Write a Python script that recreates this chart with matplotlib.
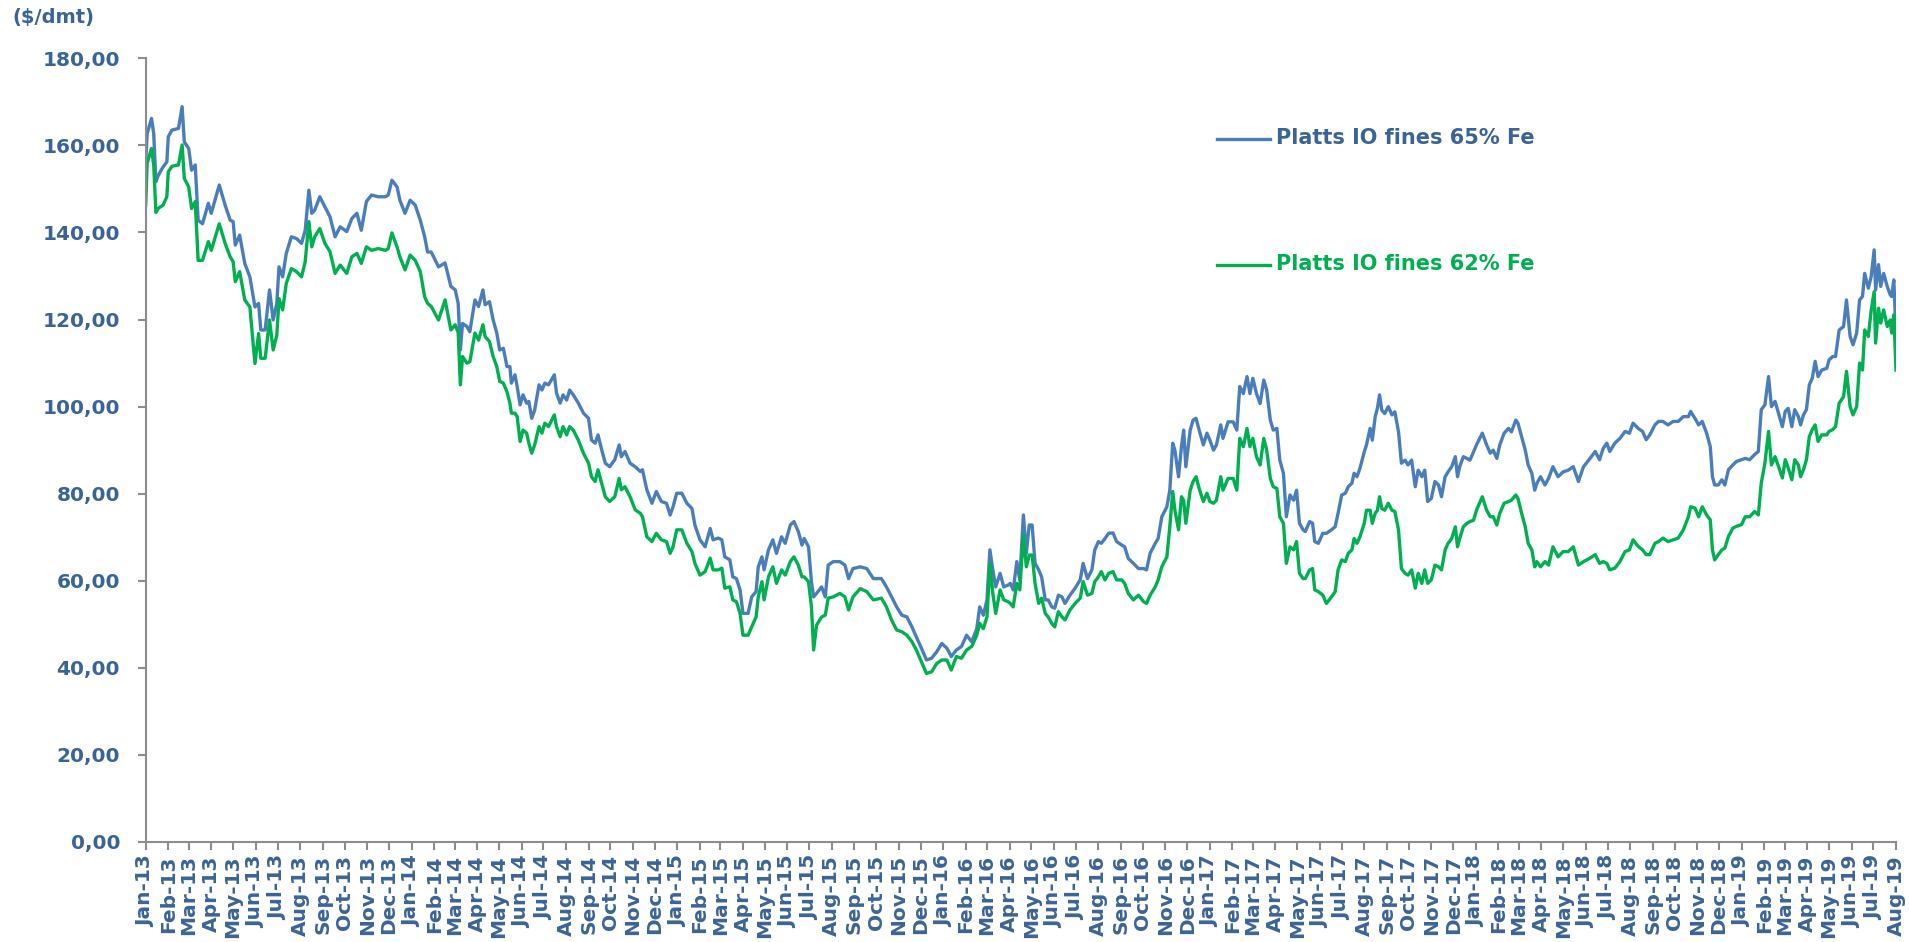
import matplotlib
matplotlib.use("Agg")
import matplotlib.pyplot as plt
import matplotlib.dates as mdates
from matplotlib.lines import Line2D
from matplotlib.ticker import FuncFormatter, MultipleLocator
import pandas as pd

# ---------------- data ----------------
# day offsets from 2013-01-01
day_offsets = [
    # 2013
    0, 2, 8, 11, 14, 17, 24, 29, 31, 36,
    45, 50, 53, 59, 63, 68, 72, 78, 86, 90,
    101, 109, 116, 120, 123, 129, 136, 143, 150, 155,
    158, 164, 170, 175, 180, 183, 188, 193, 200, 207,
    214, 219, 224, 228, 232, 239, 246, 253, 260, 267,
    276, 283, 290, 296, 303, 310, 319, 329, 333, 338,
    345, 349, 356, 363, 370, 377, 383, 387, 392, 402,
    # 2014 - early 2015
    411, 419, 425, 429, 432, 435, 441, 445, 452, 457,
    463, 466, 472, 477, 482, 486, 491, 496, 500, 502,
    507, 510, 514, 518, 523, 526, 530, 534, 540, 544,
    548, 553, 561, 564, 569, 573, 578, 582, 587, 594,
    601, 608, 612, 617, 621, 626, 631, 637, 644, 650,
    653, 658, 665, 672, 679, 682, 688, 695, 701, 708,
    715, 720, 724, 729, 736, 743, 750, 754, 761, 768,
    775, 779, 786, 791, 795,
    # 2015 - early 2016
    802, 806, 811, 816, 820, 827, 832, 838, 841, 846,
    849, 855, 861, 866, 873, 878, 885, 890, 896, 901,
    904, 910, 914, 917, 921, 928, 933, 937, 944, 953,
    960, 965, 971, 981, 990, 999, 1010, 1017, 1024, 1031,
    1038, 1045, 1052, 1058, 1065, 1072, 1079, 1086, 1093, 1100,
    1106, 1113, 1120, 1127, 1134, 1141, 1145, 1150, 1155, 1159,
    1163, 1167, 1173, 1178, 1184,
    # 2016 - early 2017
    1187, 1191, 1196, 1200, 1205, 1209, 1213, 1217, 1221, 1226,
    1230, 1235, 1239, 1244, 1248, 1253, 1258, 1262, 1269, 1276,
    1283, 1287, 1293, 1299, 1303, 1308, 1312, 1317, 1322, 1328,
    1333, 1340, 1344, 1349, 1356, 1363, 1370, 1374, 1379, 1386,
    1390, 1395, 1402, 1406, 1410, 1413, 1418, 1422, 1425, 1428,
    1434, 1438, 1442, 1447, 1452, 1457, 1461, 1466, 1470, 1476,
    1479, 1486, 1493, 1498, 1502, 1507, 1512, 1516, 1520, 1525,
    1530, 1535, 1539, 1544, 1548, 1553, 1557, 1562, 1566, 1571,
    1576, 1580, 1584, 1589,
    # 2017 - 2018
    1592, 1598, 1602, 1605, 1610, 1616, 1621, 1628, 1633, 1637,
    1642, 1647, 1651, 1656, 1659, 1663, 1667, 1673, 1676, 1681,
    1684, 1688, 1691, 1694, 1697, 1701, 1706, 1711, 1715, 1720,
    1724, 1729, 1733, 1738, 1743, 1747, 1752, 1756, 1760, 1765,
    1770, 1775, 1779, 1784, 1788, 1793, 1798, 1801, 1804, 1809,
    1814, 1818, 1823, 1827, 1835, 1841, 1846, 1850, 1855, 1859,
    1865, 1871, 1875, 1881, 1884, 1889, 1894, 1898, 1903, 1907,
    1910, 1915, 1921, 1926, 1932, 1939, 1946, 1953, 1960, 1967,
    1974,
    # 2018 - 2019
    1983, 1990, 1996, 2001, 2006, 2010, 2017, 2024, 2031, 2037,
    2042, 2049, 2055, 2060, 2065, 2072, 2077, 2083, 2090, 2097,
    2104, 2111, 2118, 2121, 2127, 2132, 2137, 2143, 2148, 2151,
    2154, 2159, 2164, 2168, 2173, 2179, 2184, 2191, 2196, 2202,
    2209, 2214, 2218, 2223, 2228, 2232, 2237, 2241, 2247, 2251,
    2255, 2260, 2264, 2269, 2272, 2276, 2280, 2284, 2288, 2292,
    2296, 2301, 2308, 2311, 2316, 2320, 2325, 2331, 2335, 2340,
    2344, 2349, 2353, 2357, 2360, 2365, 2369, 2373, 2375, 2379,
    2382, 2386, 2391, 2395, 2397, 2400, 2403,
]

fines_65 = [
    156.0, 162.7, 166.2, 162.7, 151.7, 153.0, 155.1, 156.2, 162.0, 163.5,
    163.9, 168.9, 160.8, 159.3, 154.3, 155.5, 142.8, 142.0, 146.7, 144.4,
    150.9, 146.3, 142.8, 142.5, 137.1, 139.4, 132.9, 129.8, 122.9, 123.7,
    117.6, 117.6, 126.8, 119.9, 123.7, 132.1, 129.8, 135.2, 139.0, 138.6,
    137.5, 140.5, 149.7, 144.4, 145.1, 148.2, 145.9, 143.6, 139.0, 141.3,
    140.2, 143.2, 144.4, 140.5, 147.1, 148.6, 148.2, 148.2, 148.6, 152.0,
    150.5, 147.4, 144.4, 147.4, 146.3, 142.8, 139.0, 135.5, 135.5, 132.1,
    133.0, 127.6, 126.8, 123.7, 113.0, 119.1, 118.4, 117.2, 124.5, 123.0,
    126.8, 123.4, 124.1, 119.9, 116.9, 113.0, 113.4, 109.2, 109.2, 105.4,
    107.3, 104.6, 100.4, 102.7, 100.8, 101.2, 97.3, 99.2, 105.0, 103.8,
    105.4, 105.0, 107.3, 103.1, 100.8, 102.7, 101.5, 103.8, 102.7, 100.8,
    98.5, 97.3, 92.3, 91.6, 93.5, 90.1, 87.0, 86.2, 87.8, 91.2,
    88.5, 89.7, 87.0, 86.2, 85.1, 85.5, 80.9, 77.8, 80.5, 78.2,
    77.8, 75.1, 77.0, 80.1, 80.1, 77.8, 76.6, 72.8, 69.4, 67.8,
    72.0, 69.4, 69.8, 69.4, 65.5,
    64.8, 60.9, 60.5, 57.9, 52.5, 52.5, 56.3, 57.5, 63.2, 65.5,
    62.5, 67.1, 69.4, 66.3, 70.1, 68.6, 72.8, 73.6, 71.3, 68.2,
    69.7, 67.8, 59.8, 56.3, 57.1, 58.6, 56.3, 63.6, 64.4, 64.4,
    63.6, 60.5, 62.8, 63.2, 62.8, 60.5, 60.5, 58.6, 56.3, 54.0,
    52.1, 51.7, 49.4, 47.1, 44.5, 41.8, 42.2, 43.7, 45.6, 44.5,
    42.6, 44.1, 44.9, 47.5, 46.0, 49.0, 54.0, 52.1, 55.6, 67.1,
    62.5, 58.6, 61.7, 58.6, 59.0,
    59.4, 57.9, 64.4, 60.2, 75.1, 66.3, 72.8, 72.8, 64.0, 62.5,
    60.9, 55.6, 55.6, 54.0, 53.7, 56.7, 56.3, 54.8, 56.7, 58.3,
    60.2, 64.0, 60.5, 62.5, 67.1, 69.0, 68.6, 69.7, 70.9, 71.0,
    69.0, 68.2, 67.8, 65.1, 64.0, 62.8, 62.8, 62.5, 66.3, 68.6,
    69.7, 74.7, 77.0, 80.8, 91.6, 90.0, 83.9, 90.8, 94.6, 86.2,
    94.6, 96.9, 97.3, 94.2, 91.2, 93.9, 92.3, 90.0, 91.2, 95.8,
    92.7, 96.5, 96.5, 94.6, 104.6, 103.0, 106.9, 103.0, 106.5, 103.0,
    100.7, 106.1, 103.8, 96.9, 94.6, 95.0, 87.7, 84.7, 74.7, 79.7,
    78.5, 80.8, 73.2, 71.7,
    71.3, 73.6, 73.2, 69.0, 68.6, 70.9, 70.9, 71.7, 72.4, 75.5,
    79.7, 80.1, 81.6, 82.4, 84.7, 83.9, 85.8, 89.6, 91.2, 95.0,
    92.3, 97.7, 99.6, 102.7, 99.2, 98.4, 100.0, 98.1, 98.8, 94.2,
    87.0, 87.7, 86.6, 87.7, 81.6, 85.4, 83.9, 85.4, 78.2, 78.9,
    82.8, 82.0, 79.3, 83.9, 85.0, 86.2, 88.5, 83.9, 86.2, 88.5,
    88.1, 87.7, 89.6, 91.2, 93.9, 91.2, 89.3, 90.0, 88.1, 91.2,
    93.9, 95.0, 94.2, 96.9, 96.2, 93.1, 90.0, 86.6, 84.7, 80.8,
    82.4, 83.9, 82.0, 83.5, 86.2, 83.9, 85.0, 85.4, 86.2, 82.8,
    86.2,
    88.1, 89.7, 87.8, 90.4, 91.6, 89.7, 91.6, 92.7, 94.3, 93.9,
    96.2, 95.0, 94.3, 92.4, 93.5, 95.8, 96.6, 96.6, 95.8, 96.6,
    96.6, 97.7, 97.7, 98.9, 97.3, 95.8, 96.6, 93.9, 90.8, 83.9,
    82.0, 82.0, 83.2, 82.0, 85.5, 86.6, 87.4, 87.8, 88.1, 87.8,
    89.0, 89.7, 99.3, 100.4, 106.9, 100.0, 101.2, 98.9, 95.4, 98.9,
    99.6, 95.4, 99.3, 97.7, 95.8, 98.1, 99.3, 105.0, 106.5, 110.4,
    106.9, 108.4, 108.8, 110.7, 111.5, 111.5, 117.6, 118.4, 124.5, 116.1,
    114.2, 116.9, 124.5, 125.3, 130.6, 127.2, 129.9, 136.0, 126.8, 132.6,
    127.6, 130.6, 127.6, 125.7, 125.3, 129.1, 116.9,
]

fines_62 = [
    146.3, 155.9, 159.3, 155.5, 144.6, 145.5, 146.3, 148.2, 153.9, 155.2,
    155.5, 160.1, 152.4, 150.5, 145.5, 147.1, 133.6, 133.6, 137.9, 135.9,
    142.0, 137.5, 134.4, 133.3, 128.7, 131.0, 124.5, 122.9, 109.9, 116.8,
    111.1, 111.1, 119.9, 113.0, 116.4, 124.8, 122.2, 128.3, 131.7, 131.0,
    129.8, 133.3, 142.5, 136.7, 139.0, 140.9, 137.5, 135.6, 130.6, 132.5,
    130.6, 134.4, 135.2, 132.9, 136.7, 135.9, 136.3, 135.9, 136.3, 139.9,
    136.7, 134.4, 131.4, 134.8, 133.6, 131.0, 125.2, 123.7, 123.0, 119.9,
    124.5, 117.6, 118.8, 117.0, 105.0, 111.5, 110.0, 110.3, 116.9, 115.3,
    118.8, 116.1, 114.9, 111.5, 109.2, 105.8, 105.4, 103.4, 100.8, 98.5,
    98.5, 97.7, 92.0, 94.6, 93.9, 91.6, 89.3, 91.2, 95.4, 93.9,
    96.2, 95.4, 98.1, 95.4, 93.1, 95.4, 93.5, 95.4, 94.6, 92.3,
    89.3, 87.0, 83.9, 82.8, 85.5, 82.4, 79.3, 78.2, 79.3, 83.5,
    80.9, 81.6, 79.3, 76.3, 75.5, 74.7, 70.1, 69.0, 70.9, 69.4,
    69.0, 66.3, 67.8, 71.7, 71.7, 68.6, 66.7, 64.0, 61.3, 62.1,
    65.2, 62.5, 62.5, 62.9, 58.3,
    58.6, 55.6, 55.2, 52.5, 47.5, 47.5, 49.4, 51.7, 56.3, 59.8,
    55.6, 60.9, 63.2, 59.4, 62.5, 61.3, 64.4, 65.5, 63.6, 60.9,
    60.9, 59.8, 54.0, 44.1, 49.8, 51.7, 52.1, 56.0, 56.3, 57.1,
    56.3, 53.3, 56.3, 58.2, 57.5, 55.6, 56.0, 54.0, 51.0, 48.7,
    48.3, 47.5, 46.0, 44.1, 41.4, 38.7, 39.1, 41.0, 41.8, 41.8,
    39.5, 42.6, 42.2, 44.1, 44.9, 47.5, 50.2, 49.0, 51.7, 64.0,
    57.1, 52.5, 57.9, 55.6, 55.2,
    54.8, 54.0, 59.4, 57.9, 70.5, 63.2, 65.9, 65.9, 59.4, 54.8,
    56.0, 52.5, 51.7, 50.2, 49.4, 52.9, 51.7, 51.0, 53.3, 54.8,
    56.0, 59.8, 56.7, 57.1, 59.8, 60.9, 62.1, 60.2, 61.7, 62.1,
    60.2, 60.2, 59.4, 57.1, 55.6, 56.7, 55.2, 54.8, 56.7, 58.6,
    60.2, 63.2, 65.5, 72.4, 80.5, 76.2, 71.7, 79.3, 78.5, 73.2,
    80.8, 82.8, 83.9, 80.8, 78.2, 80.1, 78.2, 77.8, 78.5, 83.9,
    80.8, 83.5, 83.5, 80.8, 92.7, 90.8, 95.0, 90.8, 92.7, 88.5,
    86.6, 92.7, 90.0, 83.5, 81.6, 81.2, 74.7, 73.2, 64.0, 67.8,
    67.1, 69.0, 61.7, 60.5,
    60.5, 62.5, 62.8, 57.9, 57.5, 56.7, 54.8, 56.3, 57.5, 62.5,
    64.8, 64.4, 66.3, 67.1, 69.7, 68.6, 70.1, 73.2, 76.2, 76.2,
    73.2, 75.5, 76.2, 79.3, 76.6, 76.2, 77.8, 76.2, 75.9, 71.7,
    62.8, 61.7, 61.3, 62.5, 58.3, 61.7, 59.4, 62.5, 59.4, 60.2,
    63.6, 63.2, 62.5, 67.1, 68.6, 69.7, 72.4, 67.8, 69.7, 72.4,
    73.2, 73.6, 73.9, 76.2, 79.3, 76.2, 74.7, 74.7, 72.8, 75.5,
    77.8, 78.2, 78.5, 79.7, 78.9, 75.5, 72.4, 68.6, 67.1, 63.2,
    64.4, 63.2, 64.4, 63.6, 67.8, 65.5, 66.7, 66.7, 67.8, 63.6,
    64.4,
    65.2, 66.0, 64.0, 64.4, 64.0, 62.5, 62.9, 64.4, 66.7, 67.1,
    69.4, 67.9, 67.1, 66.0, 66.0, 68.6, 69.0, 69.8, 69.0, 69.4,
    69.8, 71.7, 74.7, 77.0, 76.7, 74.7, 77.0, 75.1, 74.0, 67.1,
    64.8, 66.0, 67.1, 67.5, 70.2, 72.1, 72.5, 72.9, 74.7, 74.7,
    75.9, 75.1, 82.4, 87.0, 94.3, 86.6, 88.5, 86.6, 83.6, 87.8,
    85.9, 83.2, 87.8, 86.6, 83.9, 85.5, 87.8, 93.1, 94.7, 95.8,
    92.0, 93.5, 93.5, 94.3, 94.7, 95.4, 100.8, 102.3, 108.1, 100.0,
    98.1, 100.0, 110.0, 108.4, 117.6, 116.1, 122.2, 126.4, 114.6, 122.6,
    119.2, 122.2, 118.4, 119.9, 116.9, 121.1, 108.4,
]

series_labels = ["Platts IO fines 65% Fe", "Platts IO fines 62% Fe"]
y_unit_label = "($/dmt)"
y_ticks = [0, 20, 40, 60, 80, 100, 120, 140, 160, 180]

assert len(day_offsets) == len(fines_65) == len(fines_62), (
    len(day_offsets), len(fines_65), len(fines_62))

# ---------------- styling ----------------
TEXT = "#3B6496"
BLUE = "#4A7EBB"
GREEN = "#00B050"
AXIS = "#8C8C8C"
FONT = "DejaVu Sans"

dates = pd.Timestamp("2013-01-01") + pd.to_timedelta(day_offsets, unit="D")

W, H = 1909, 942
fig = plt.figure(figsize=(W / 100, H / 100), dpi=100)
left, right, top, bottom = 145.7, 1896.0, 58.3, 842.0
ax = fig.add_axes([left / W, 1 - bottom / H, (right - left) / W, (bottom - top) / H])

ax.plot(dates, fines_65, color=BLUE, lw=2.4, solid_joinstyle="round")
ax.plot(dates, fines_62, color=GREEN, lw=2.4, solid_joinstyle="round")

ax.set_xlim(pd.Timestamp("2013-01-01"), pd.Timestamp("2019-08-01"))
ax.set_ylim(0, 180)
ax.set_yticks(y_ticks)
ax.yaxis.set_major_formatter(FuncFormatter(lambda v, p: f"{v:.2f}".replace(".", ",")))
ax.xaxis.set_major_locator(mdates.MonthLocator())
ax.xaxis.set_major_formatter(mdates.DateFormatter("%b-%y"))

for s in ("top", "right"):
    ax.spines[s].set_visible(False)
for s in ("left", "bottom"):
    ax.spines[s].set_color(AXIS)
    ax.spines[s].set_linewidth(1.5)

ax.tick_params(axis="y", direction="out", length=6, width=1.5, color=AXIS,
               pad=12.5, labelcolor=TEXT)
ax.tick_params(axis="x", direction="out", length=5.5, width=1.5, color=AXIS,
               pad=4, labelcolor=TEXT)
for lab in ax.get_yticklabels():
    lab.set_fontfamily(FONT)
    lab.set_fontweight("bold")
    lab.set_fontsize(14.5)
for lab in ax.get_xticklabels():
    lab.set_fontfamily(FONT)
    lab.set_fontweight("bold")
    lab.set_fontsize(14.5)
    lab.set_rotation(90)
    lab.set_ha("center")
    lab.set_va("top")

# unit label
fig.text(12 / W, 1 - 18 / H, y_unit_label, ha="left", va="center",
         fontsize=14, fontweight="bold", color=TEXT, family=FONT)

# legend drawn as free-floating keys
for (ypix, col, tcol, lab) in [(139, BLUE, TEXT, series_labels[0]),
                                (265, GREEN, GREEN, series_labels[1])]:
    fig.add_artist(Line2D([1217 / W, 1270 / W], [1 - ypix / H] * 2,
                          transform=fig.transFigure, color=col, lw=2.4))
    fig.text(1276 / W, 1 - (ypix - 1) / H, lab, ha="left", va="center",
             fontsize=15, fontweight="bold", color=tcol, family=FONT)

fig.savefig("out.png", dpi=100, facecolor="white")
